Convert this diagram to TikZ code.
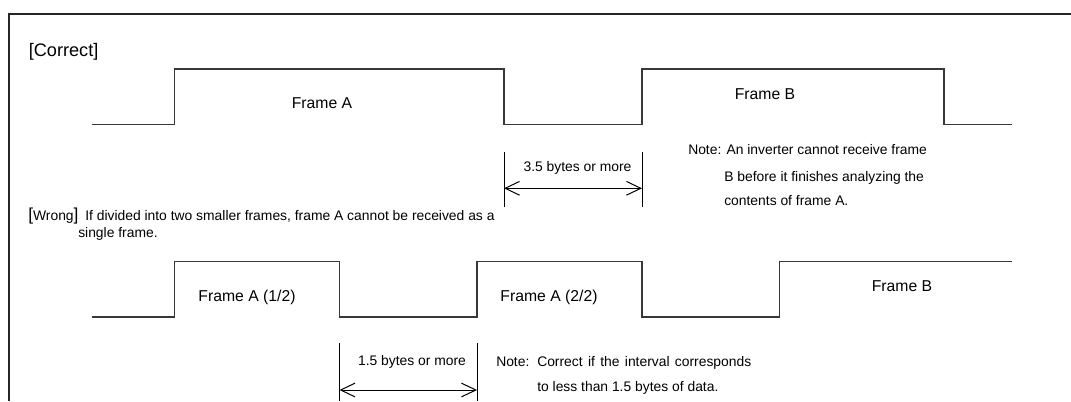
\documentclass[tikz,border=0pt]{standalone}
\usepackage{fontspec}
\setmainfont{Liberation Sans}
\usetikzlibrary{arrows.meta}
\begin{document}
\begin{tikzpicture}[x=0.75pt,y=-0.75pt,
  border/.style={line width=1.5pt, draw=black!85},
  wave/.style={line width=1.1pt, draw=black!78},
  dimline/.style={line width=0.75pt, draw=black},
  dimarrow/.style={line width=0.75pt, draw=black,
    {Straight Barb[length=10.8pt,width=10.3pt]}-{Straight Barb[length=10.8pt,width=10.3pt]}},
  titlelbl/.style={font=\fontsize{13.6}{16}\selectfont, inner sep=0pt, anchor=base west},
  framelbl/.style={font=\fontsize{11.8}{14}\selectfont, inner sep=0pt, anchor=base},
  smalllbl/.style={font=\fontsize{10.4}{12}\selectfont, inner sep=0pt, anchor=base west},
  ]
\useasboundingbox (0,0) rectangle (1071,401);

% border (cropped box: top and left edges)
\coordinate (bTL) at (8.5,13.5);
\coordinate (bTR) at (1071,13.5);
\coordinate (bBL) at (8.5,401);
\draw[border] (bBL) -- (bTL) -- (bTR);

% ---------- Correct ----------
\node[titlelbl] (tcorrect) at (28.6,56.7) {[Correct]};

\coordinate (c0) at (91.6,124.3);
\coordinate (c1) at (174.6,124.3);
\coordinate (c2) at (174.6,69);
\coordinate (c3) at (504,69);
\coordinate (c4) at (504,124.3);
\coordinate (c5) at (642,124.3);
\coordinate (c6) at (642,69);
\coordinate (c7) at (944,69);
\coordinate (c8) at (944,124.3);
\coordinate (c9) at (1012,124.3);
\draw[wave] (c0) -- (c1) -- (c2) -- (c3) -- (c4) -- (c5) -- (c6) -- (c7) -- (c8) -- (c9);

\node[framelbl] (fA) at (322,108.3) {Frame A};
\node[framelbl] (fB) at (765,99) {Frame B};

\coordinate (da1t) at (504,151.7);
\coordinate (da1b) at (504,206.7);
\coordinate (da2t) at (642,151.7);
\coordinate (da2b) at (642,206.7);
\coordinate (daL) at (504,188.3);
\coordinate (daR) at (642,188.3);
\draw[dimline] (da1t) -- (da1b);
\draw[dimline] (da2t) -- (da2b);
\draw[dimarrow] (daL) -- (daR);
\node[smalllbl, anchor=base] (d35) at (577.5,171.7) {3.5 bytes or more};

\node[smalllbl] (note1a) at (688,154) {Note: An inverter cannot receive frame};
\node[smalllbl] (note1b) at (724,181) {B before it finishes analyzing the};
\node[smalllbl] (note1c) at (724,205) {contents of frame A.};

% ---------- Wrong ----------
\node[smalllbl] (twrong) at (28,220) {{\fontsize{13}{14}\selectfont[}Wrong{\fontsize{13}{14}\selectfont]}};
\node[smalllbl] (wtext1) at (85,220) {If divided into two smaller frames, frame A cannot be received as a};
\node[smalllbl] (wtext2) at (78,237) {single frame.};

\coordinate (w0) at (91.6,317);
\coordinate (w1) at (174.6,317);
\coordinate (w2) at (174.6,261.7);
\coordinate (w3) at (339.5,261.7);
\coordinate (w4) at (339.5,317);
\coordinate (w5) at (477,317);
\coordinate (w6) at (477,261.7);
\coordinate (w7) at (642,261.7);
\coordinate (w8) at (642,317);
\coordinate (w9) at (779.3,317);
\coordinate (w10) at (779.3,261.7);
\coordinate (w11) at (1012,261.7);
\draw[wave] (w0) -- (w1) -- (w2) -- (w3) -- (w4) -- (w5) -- (w6) -- (w7) -- (w8) -- (w9) -- (w10) -- (w11);

\node[framelbl] (fA1) at (247,301.7) {Frame A (1/2)};
\node[framelbl] (fA2) at (549,301.7) {Frame A (2/2)};
\node[framelbl] (fB2) at (902,291.7) {Frame B};

\coordinate (db1t) at (339.5,343);
\coordinate (db1b) at (339.5,401);
\coordinate (db2t) at (477,343);
\coordinate (db2b) at (477,401);
\coordinate (dbL) at (339.5,390);
\coordinate (dbR) at (477,390);
\draw[dimline] (db1t) -- (db1b);
\draw[dimline] (db2t) -- (db2b);
\draw[dimarrow] (dbL) -- (dbR);
\node[smalllbl, anchor=base] (d15) at (412,365) {1.5 bytes or more};

\node[smalllbl] (note2a) at (496,366) {Note:};
\node[smalllbl] (note2b) at (537,366) {\makebox[160.5pt][s]{Correct if the interval corresponds}};
\node[smalllbl] (note2c) at (537,391) {to less than 1.5 bytes of data.};
\end{tikzpicture}
\end{document}
